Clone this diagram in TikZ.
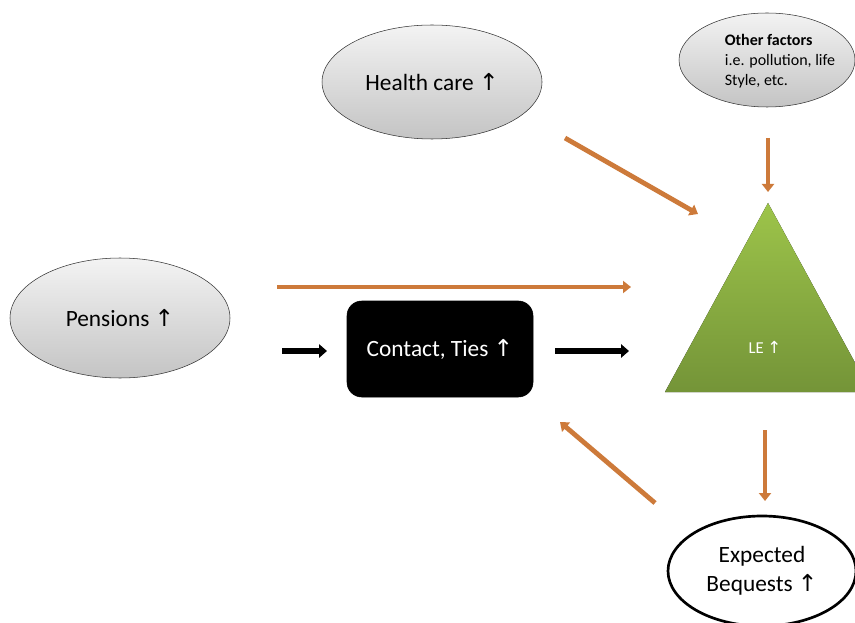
\documentclass[tikz,border=0pt]{standalone}
\usepackage{fontspec}
\setmainfont{Carlito}
\newfontfamily\arrowfont{DejaVu Sans}
\usetikzlibrary{arrows.meta, positioning, calc, shapes.geometric}
\definecolor{arroworange}{RGB}{205,122,58}
\definecolor{legreentop}{RGB}{157,196,74}
\definecolor{legreenbot}{RGB}{116,148,56}
\definecolor{bubbletop}{RGB}{243,243,243}
\definecolor{bubblebot}{RGB}{196,196,196}
\newcommand{\upmark}{{\arrowfont\char"2191}}

\begin{document}
\begin{tikzpicture}[
  x=0.75pt,y=-0.75pt,
  bubble/.style={
    ellipse, draw=black!80, thin, inner sep=0pt,
    top color=bubbletop, bottom color=bubblebot,
    font=\fontsize{17.5}{21}\selectfont
  },
  blackbox/.style={
    rectangle, rounded corners=11pt, fill=black, draw=black,
    minimum width=139.5pt, minimum height=72pt,
    text=white, font=\fontsize{17.5}{21}\selectfont
  },
  endbubble/.style={
    ellipse, draw=black, line width=2pt, fill=white, inner sep=0pt,
    minimum width=141pt, minimum height=82.5pt, align=center,
    font=\fontsize{17.5}{21.5}\selectfont
  },
  orangearrow/.style={-{Triangle[length=6pt,width=9pt]}, line width=3.6pt, draw=arroworange},
  blackarrow/.style={-{Triangle[length=6pt,width=10pt]}, line width=3.8pt, draw=black}
]
\clip (0,0) rectangle (855,623);
\useasboundingbox (0,0) rectangle (855,623);

% ---- fixed positions ----
\node[bubble, minimum width=165pt, minimum height=85.5pt] (health)   at (432, 82)  {Health care \upmark};
\node[bubble, minimum width=132pt, minimum height=70.5pt] (other)    at (767, 60)  {};
\node[align=left, inner sep=0pt, font=\fontsize{12}{15}\selectfont] (othertext) at (780, 61)
  {\textbf{Other factors}\\i.e. pollution, life\\Style, etc.};
\node[bubble, minimum width=165pt, minimum height=90pt]   (pensions) at (120, 318) {Pensions \upmark};
\node[blackbox]                                           (contact)  at (440, 349) {Contact, Ties \upmark};
\node[endbubble]                                          (bequests) at (762, 571) {Expected\\Bequests \upmark};

% ---- life expectancy triangle ----
\coordinate (apex) at (768, 203);
\fill[top color=legreentop, bottom color=legreenbot] (apex) -- (665, 392) -- (871, 392) -- cycle;
\node[text=white, font=\fontsize{12.5}{14}\selectfont] (le) at (765, 347) {LE \upmark};

% ---- free arrow ends ----
\coordinate (hcTail)  at (565, 138);
\coordinate (hcHead)  at (698, 214);
\coordinate (ofTail)  at (768, 138);
\coordinate (ofHead)  at (768, 192);
\coordinate (peTail)  at (277, 287);
\coordinate (peHead)  at (631, 287);
\coordinate (ctIn)    at (282, 351);
\coordinate (ctInEnd) at (327, 351);
\coordinate (ctOut)   at (555, 351);
\coordinate (ctOutEnd)at (629, 351);
\coordinate (leTail)  at (765, 430);
\coordinate (leHead)  at (765, 501);
\coordinate (bqTail)  at (655, 503);
\coordinate (bqHead)  at (560, 422);

% ---- connectors ----
\draw[orangearrow] (hcTail) -- (hcHead);
\draw[orangearrow] (ofTail) -- (ofHead);
\draw[orangearrow] (peTail) -- (peHead);
\draw[blackarrow]  (ctIn) -- (ctInEnd);
\draw[blackarrow]  (ctOut) -- (ctOutEnd);
\draw[orangearrow] (leTail) -- (leHead);
\draw[orangearrow] (bqTail) -- (bqHead);

\end{tikzpicture}
\end{document}
